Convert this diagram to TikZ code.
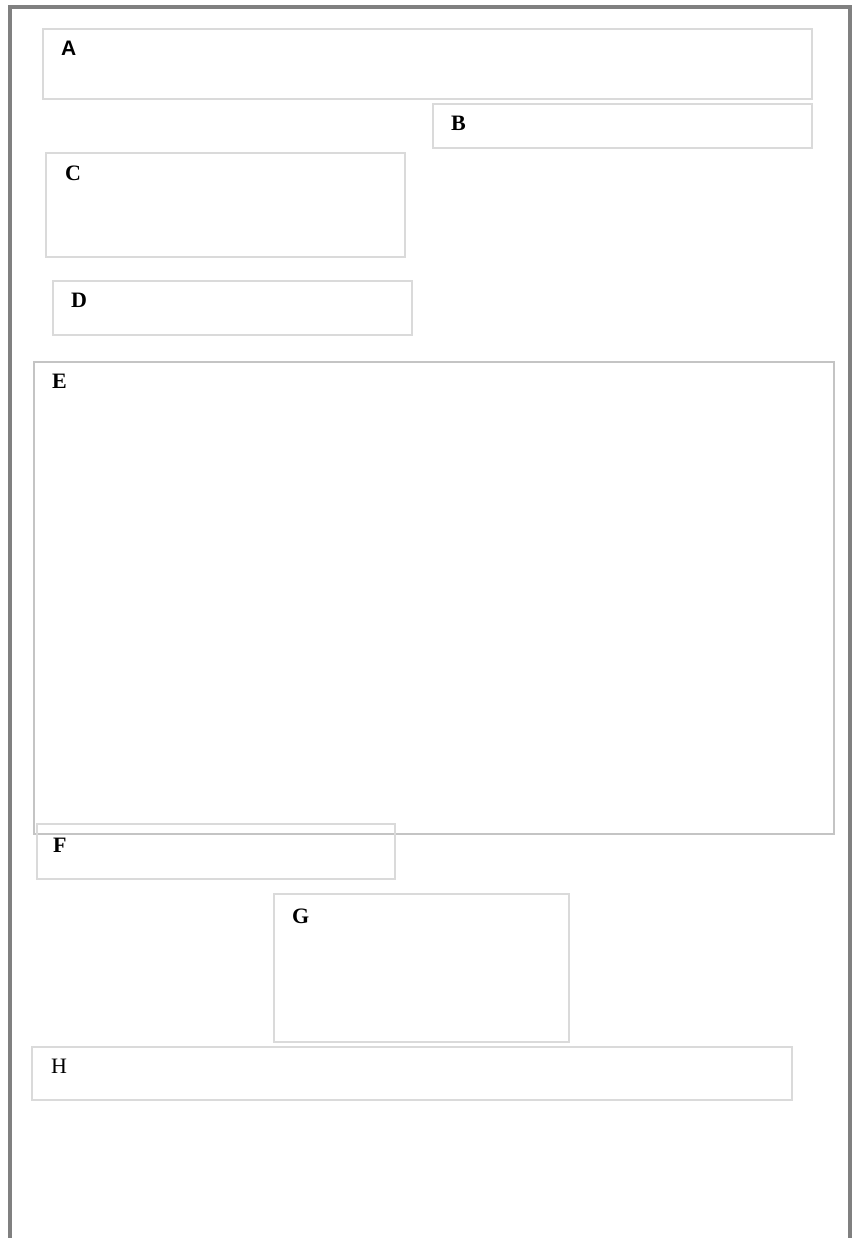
\documentclass[tikz,border=0pt]{standalone}
\usepackage{fontspec}
\setmainfont{Liberation Serif}
\newfontfamily\labsans{Liberation Sans}
\definecolor{framegray}{RGB}{128, 128, 128}
\definecolor{panelgray}{RGB}{218, 218, 218}
\definecolor{bigpanelgray}{RGB}{196, 196, 196}
\usetikzlibrary{positioning}

\begin{document}
\begin{tikzpicture}[x=1pt, y=-1pt,
    panel/.style={draw=panelgray, line width=1.6pt, anchor=north west, inner sep=0pt},
    tagserif/.style={anchor=base west, inner sep=0pt, font=\fontsize{22}{24}\selectfont\bfseries},
    tagplain/.style={anchor=base west, inner sep=0pt, font=\fontsize{22}{24}\selectfont},
    tagsans/.style={anchor=base west, inner sep=0pt, font=\fontsize{21}{24}\selectfont\labsans\bfseries}]
  \useasboundingbox (0,0) rectangle (853,1238);
  \draw[framegray, line width=3.5pt] (10,1238) -- (10,7) -- (850,7) -- (850,1238);

  \node[panel, minimum width=769pt, minimum height=70pt] (boxA) at (42,28) {};
  \node[panel, minimum width=379pt, minimum height=44pt] (boxB) at (432,103) {};
  \node[panel, minimum width=359pt, minimum height=104pt] (boxC) at (45,152) {};
  \node[panel, minimum width=359pt, minimum height=54pt] (boxD) at (52,280) {};
  \node[panel, draw=bigpanelgray, line width=2pt, minimum width=800pt, minimum height=472pt] (boxE) at (33,361) {};
  \node[panel, minimum width=358pt, minimum height=55pt] (boxF) at (36,823) {};
  \node[panel, minimum width=295pt, minimum height=148pt] (boxG) at (273,893) {};
  \node[panel, minimum width=760pt, minimum height=53pt] (boxH) at (31,1046) {};

  \node[tagsans] (labA) at (61,56) {A};
  \node[tagserif] (labB) at (451,131) {B};
  \node[tagserif] (labC) at (65,181) {C};
  \node[tagserif] (labD) at (71,308) {D};
  \node[tagserif] (labE) at (52,388) {E};
  \node[tagserif] (labF) at (53,852) {F};
  \node[tagserif] (labG) at (292,923) {G};
  \node[tagplain] (labH) at (51,1073) {H};
\end{tikzpicture}
\end{document}
